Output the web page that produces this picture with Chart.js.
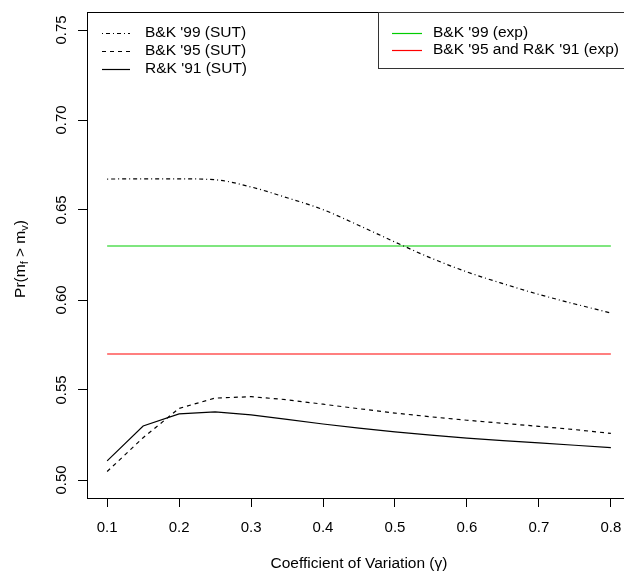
<!DOCTYPE html>
<html>
<head>
<meta charset="utf-8">
<script src="https://cdn.jsdelivr.net/npm/chart.js@4.4.1/dist/chart.umd.min.js"></script>
<style>
  html, body { margin: 0; padding: 0; background: #fff; overflow: hidden; }
</style>
</head>
<body>
<canvas id="myChart" width="640" height="571" style="display:block;width:640px;height:571px"></canvas>
<script>
// coefficient of variation (x) and the three SUT curves
const CV = [0.10, 0.15, 0.20, 0.25, 0.30, 0.35, 0.40, 0.45, 0.50, 0.55, 0.60, 0.65, 0.70, 0.75, 0.80];
const BK99_SUT = [0.6672, 0.6673, 0.6673, 0.6668, 0.6628, 0.6568, 0.6502, 0.6414, 0.6322, 0.6233, 0.6156, 0.6091, 0.6031, 0.5978, 0.5928];
const BK95_SUT = [0.5047, 0.5235, 0.5398, 0.5455, 0.5463, 0.5446, 0.5421, 0.5396, 0.5372, 0.5351, 0.5332, 0.5315, 0.5298, 0.5280, 0.5259];
const RK91_SUT = [0.5106, 0.5300, 0.5367, 0.5378, 0.5362, 0.5337, 0.5311, 0.5288, 0.5267, 0.5249, 0.5233, 0.5219, 0.5206, 0.5193, 0.5180];

// experimental values (flat)
const EXP_X = [0.1, 0.8];
const BK99_EXP = [0.63, 0.63];
const BK95_RK91_EXP = [0.57, 0.57];

const X_TICKS = [0.1, 0.2, 0.3, 0.4, 0.5, 0.6, 0.7, 0.8];
const X_TICK_LABELS = ['0.1', '0.2', '0.3', '0.4', '0.5', '0.6', '0.7', '0.8'];
const Y_TICKS = [0.50, 0.55, 0.60, 0.65, 0.70, 0.75];
const Y_TICK_LABELS = ['0.50', '0.55', '0.60', '0.65', '0.70', '0.75'];

const FONT = '"Liberation Sans", Arial, Helvetica, sans-serif';

function pts(xs, ys) {
  return xs.map((x, i) => ({x: x, y: ys[i]}));
}

const data = {
  datasets: [
    {
      label: "B&K '99 (SUT)", side: 'left',
      data: pts(CV, BK99_SUT),
      borderColor: '#000', borderWidth: 1.2, borderDash: [1, 3, 4, 3],
      cubicInterpolationMode: 'monotone'
    },
    {
      label: "B&K '95 (SUT)", side: 'left',
      data: pts(CV, BK95_SUT),
      borderColor: '#000', borderWidth: 1.2, borderDash: [4, 4]
    },
    {
      label: "R&K '91 (SUT)", side: 'left',
      data: pts(CV, RK91_SUT),
      borderColor: '#000', borderWidth: 1.2
    },
    {
      label: "B&K '99 (exp)", side: 'right',
      data: pts(EXP_X, BK99_EXP),
      borderColor: 'rgb(0,205,0)', borderWidth: 1.2
    },
    {
      label: "B&K '95 and R&K '91 (exp)", side: 'right',
      data: pts(EXP_X, BK95_RK91_EXP),
      borderColor: 'rgb(255,0,0)', borderWidth: 1.2
    }
  ]
};

// box, legends and the y title with subscripts, drawn R-style
const rLook = {
  id: 'rLook',
  afterDraw(chart) {
    const {ctx, chartArea: a} = chart;
    ctx.save();
    ctx.strokeStyle = '#000';
    ctx.lineWidth = 1;
    ctx.setLineDash([]);
    ctx.strokeRect(Math.round(a.left) + 0.5, Math.round(a.top) + 0.5,
      Math.round(a.right - a.left), Math.round(a.bottom - a.top));

    // right legend box
    ctx.strokeStyle = '#333';
    ctx.strokeRect(378.5, Math.round(a.top) + 0.5, a.right - 378, 56);

    ctx.font = '15.5px ' + FONT;
    ctx.textBaseline = 'middle';
    ctx.fillStyle = '#000';
    let nl = 0, nr = 0;
    chart.data.datasets.forEach(ds => {
      let x1, x2, tx, y;
      if (ds.side === 'left') {
        x1 = 102; x2 = 130; tx = 145; y = 32.5 + 18.3 * nl++;
      } else {
        x1 = 392; x2 = 422; tx = 433; y = 32.5 + 17.5 * nr++;
      }
      ctx.beginPath();
      ctx.setLineDash(ds.borderDash || []);
      ctx.strokeStyle = ds.borderColor;
      ctx.lineWidth = ds.borderWidth;
      ctx.moveTo(x1, Math.round(y) + 0.5);
      ctx.lineTo(x2, Math.round(y) + 0.5);
      ctx.stroke();
      ctx.fillText(ds.label, tx, y);
    });
    ctx.setLineDash([]);

    // y axis title: Pr(m_f > m_v)
    const parts = [['Pr(m', 0], ['f', 1], [' > m', 0], ['v', 1], [')', 0]];
    const big = '15.5px ' + FONT, small = '11px ' + FONT;
    let total = 0;
    parts.forEach(p => { ctx.font = p[1] ? small : big; total += ctx.measureText(p[0]).width; });
    ctx.translate(21, (a.top + a.bottom) / 2 + 4);
    ctx.rotate(-Math.PI / 2);
    let x = -total / 2;
    ctx.textAlign = 'left';
    parts.forEach(p => {
      ctx.font = p[1] ? small : big;
      ctx.fillText(p[0], x, p[1] ? 4 : 0);
      x += ctx.measureText(p[0]).width;
    });
    ctx.restore();
  }
};

const config = {
  type: 'line',
  data: data,
  options: {
    responsive: false,
    animation: false,
    events: [],
    layout: {padding: {top: 12, right: 9, left: 0, bottom: 0}},
    elements: {point: {radius: 0}, line: {tension: 0}},
    plugins: {legend: {display: false}, tooltip: {enabled: false}},
    scales: {
      x: {
        type: 'linear',
        min: 0.072, max: 0.828,
        afterBuildTicks: s => { s.ticks = X_TICKS.map(v => ({value: v})); },
        afterFit: s => { s.height = 73; },
        grid: {display: true, drawOnChartArea: false, drawTicks: true, tickLength: 9, color: '#000'},
        border: {display: false},
        ticks: {
          color: '#000', font: {family: FONT, size: 15}, padding: 12,
          minRotation: 0, maxRotation: 0, autoSkip: false,
          callback: (v, i) => X_TICK_LABELS[i]
        },
        title: {
          display: true, text: 'Coefficient of Variation (γ)', color: '#000',
          font: {family: FONT, size: 15.5, lineHeight: 1}, padding: {top: 0, bottom: 0}
        }
      },
      y: {
        min: 0.49, max: 0.76,
        afterBuildTicks: s => { s.ticks = Y_TICKS.map(v => ({value: v})); },
        afterFit: s => { s.width = 87; },
        grid: {display: true, drawOnChartArea: false, drawTicks: true, tickLength: 9, color: '#000'},
        border: {display: false},
        ticks: {
          color: '#000', font: {family: FONT, size: 15}, padding: 2,
          minRotation: 90, maxRotation: 90, crossAlign: 'center', autoSkip: false,
          callback: (v, i) => Y_TICK_LABELS[i]
        }
      }
    }
  },
  plugins: [rLook]
};

const myChart = new Chart(document.getElementById('myChart'), config);
</script>
</body>
</html>
